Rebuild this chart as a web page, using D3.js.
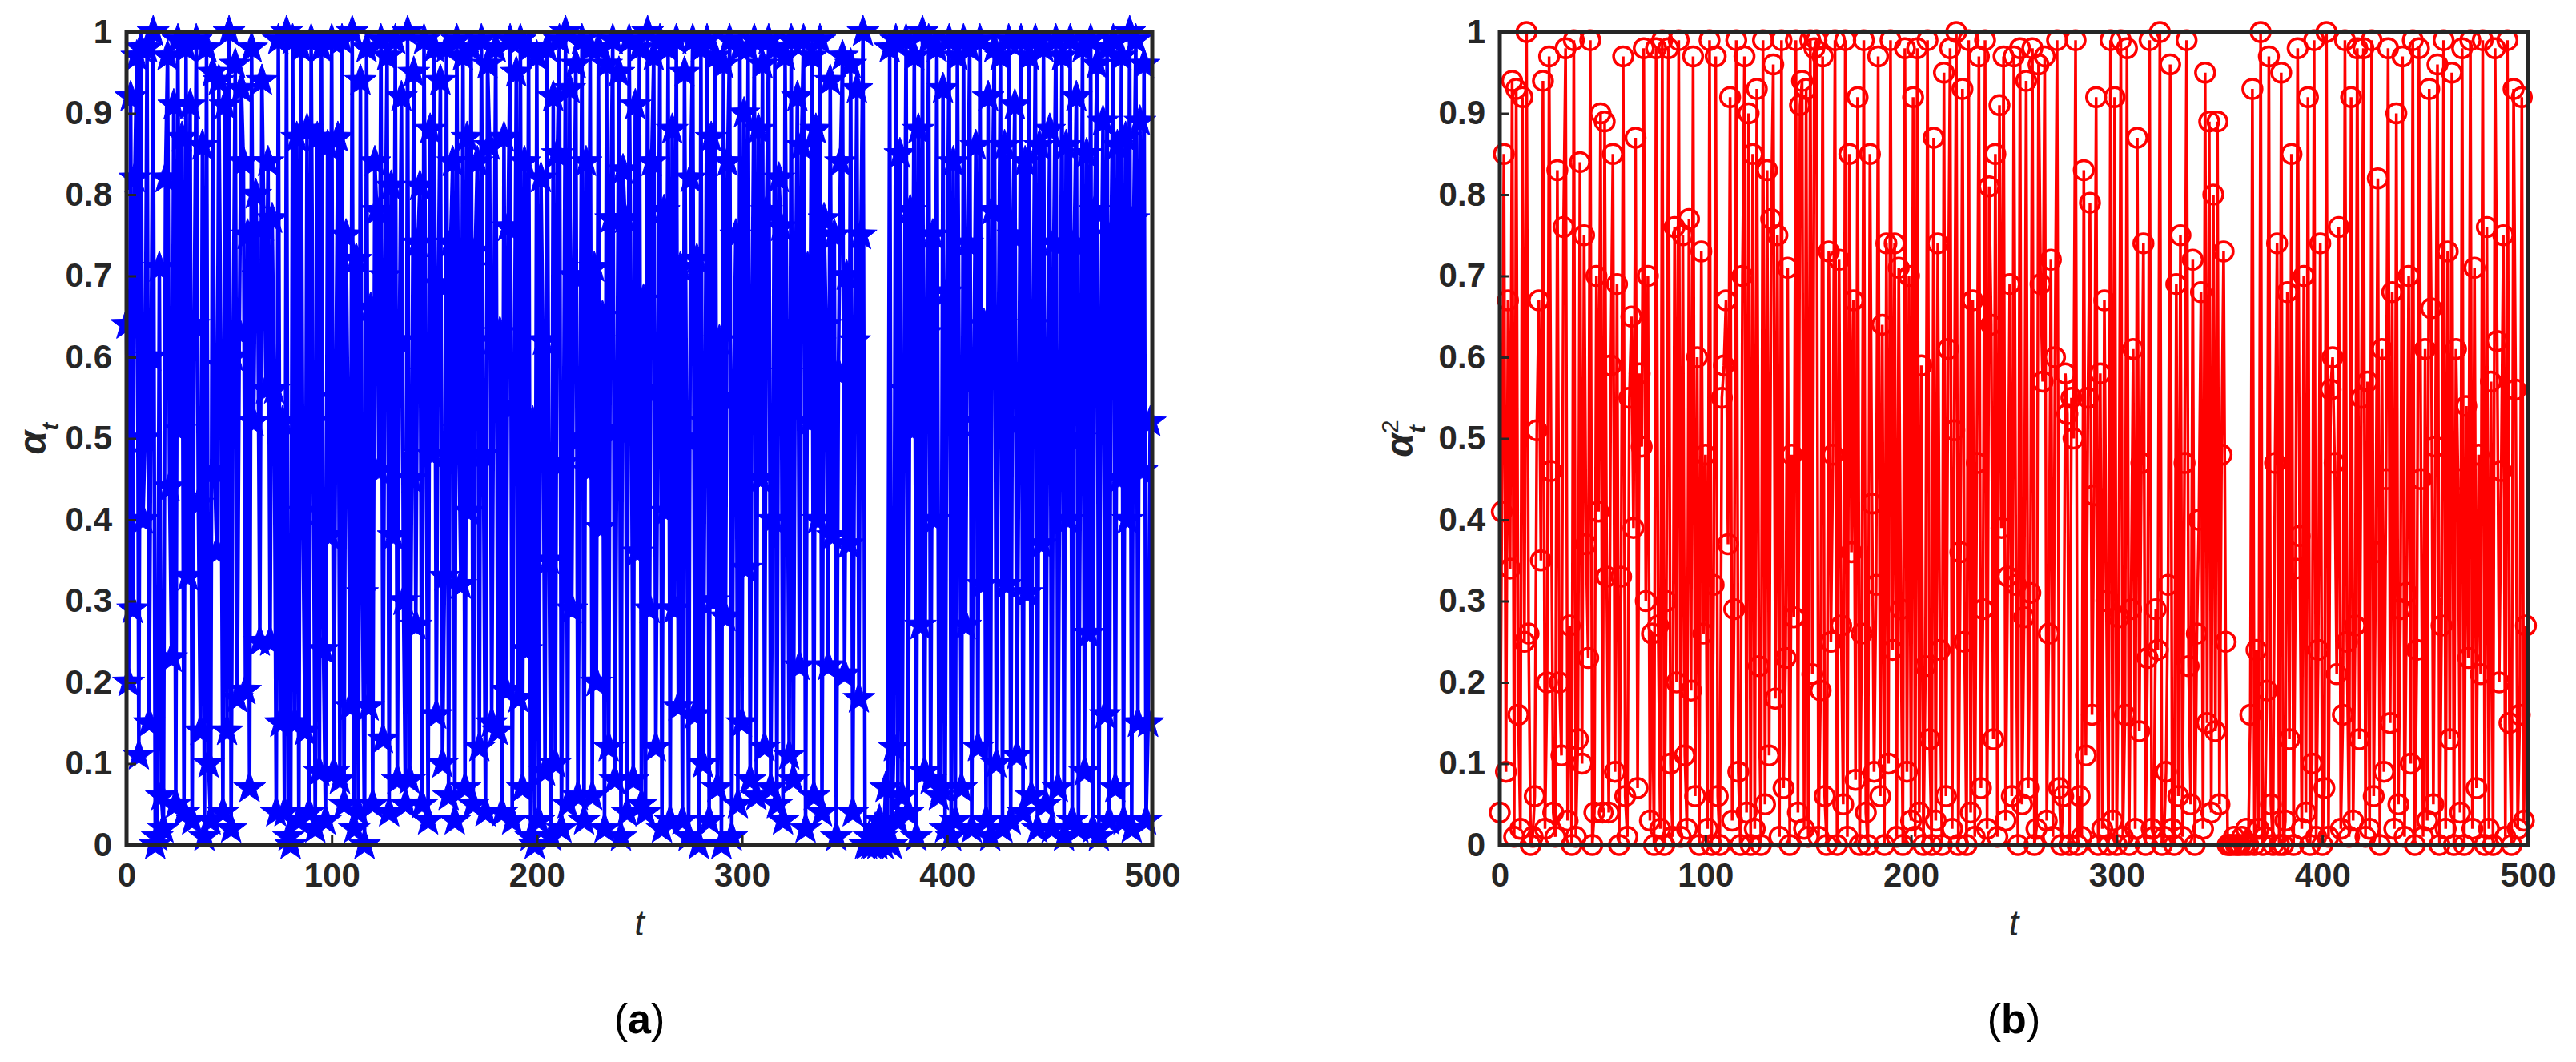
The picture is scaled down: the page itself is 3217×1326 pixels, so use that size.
<!DOCTYPE html>
<html>
<head>
<meta charset="utf-8">
<script src="https://cdn.jsdelivr.net/npm/d3@7/dist/d3.min.js"></script>
<style>
  html, body { margin: 0; padding: 0; background: #fff; }
  text { font-family: Arial, "Liberation Sans", sans-serif; }
</style>
</head>
<body>
<div id="chart"></div>
<script>
const W = 3217, H = 1326;

// chaotic sequence values (t = 0..499)
const seriesA = [
  0.64,0.20,0.92,0.29,0.82,0.97,0.11,0.98,0.40,0.50,0.98,0.15,0.60,1.00,0.00,0.01,0.71,0.06,0.02,0.82,
  0.97,0.44,0.23,0.91,0.05,0.99,0.51,0.87,0.04,0.98,0.33,0.91,0.03,0.64,0.99,0.42,0.14,0.86,0.01,0.98,
  0.10,0.03,0.95,0.46,0.36,0.94,0.59,0.04,0.91,0.14,1.00,0.02,0.60,0.96,0.18,0.63,0.93,0.84,0.19,0.75,
  0.07,0.98,0.52,0.80,0.70,0.25,0.94,0.76,0.56,0.84,0.25,0.77,0.56,0.04,0.99,0.15,0.52,0.04,1.00,0.01,
  0.00,0.99,0.15,0.87,0.03,0.98,0.41,0.14,0.88,0.04,0.99,0.52,0.02,0.87,0.09,0.98,0.24,0.03,0.86,0.38,
  0.99,0.09,0.55,0.87,0.08,0.99,0.05,0.75,0.51,0.17,1.00,0.02,0.72,0.04,0.94,0.31,0.00,0.98,0.17,0.66,
  0.05,0.84,0.78,0.46,0.99,0.13,0.70,0.97,0.04,0.81,0.38,0.99,0.08,0.62,0.92,0.30,0.05,1.00,0.08,0.45,
  0.95,0.27,0.74,0.81,0.05,0.99,0.58,0.03,0.88,0.48,0.98,0.16,0.69,0.94,0.10,0.33,0.98,0.06,0.74,0.84,
  0.03,0.99,0.51,0.32,0.97,0.07,0.87,0.41,0.98,0.05,0.73,0.84,0.12,0.99,0.48,0.04,0.96,0.86,0.15,0.62,
  0.98,0.14,0.63,0.04,0.87,0.19,0.76,0.99,0.03,0.54,0.95,0.18,0.99,0.07,0.84,0.24,0.98,0.01,0.52,0.00,
  0.97,0.03,0.82,0.62,0.09,0.98,0.35,0.01,0.92,0.10,0.85,0.99,0.02,0.47,1.00,0.05,0.93,0.29,0.70,0.96,
  0.06,0.50,0.99,0.03,0.84,0.46,0.98,0.06,0.71,0.20,0.98,0.39,0.65,0.02,0.96,0.12,0.77,0.99,0.08,0.51,
  0.95,0.01,0.83,0.77,0.04,0.99,0.62,0.08,0.91,0.36,0.98,0.05,0.67,0.04,1.00,0.29,0.84,0.97,0.12,0.56,
  0.99,0.02,0.78,0.41,0.98,0.03,0.88,0.29,0.99,0.17,0.71,0.03,0.95,0.50,0.01,0.82,0.99,0.16,0.72,0.00,
  0.98,0.10,0.52,0.99,0.03,0.87,0.30,0.97,0.07,0.62,0.00,0.96,0.28,0.84,0.99,0.01,0.55,0.75,0.05,0.98,
  0.15,0.90,0.34,0.98,0.08,0.66,0.99,0.06,0.88,0.45,0.96,0.12,0.78,0.99,0.07,0.40,0.98,0.05,0.82,0.76,
  0.03,0.97,0.58,0.11,0.99,0.08,0.64,0.92,0.22,0.86,0.99,0.02,0.71,0.52,0.97,0.06,0.88,0.40,0.99,0.04,
  0.77,0.64,0.22,0.94,0.38,0.75,0.01,0.58,0.84,0.97,0.21,0.70,0.37,0.96,0.04,0.62,0.93,0.18,0.75,1.00,
  0.00,0.00,0.01,0.00,0.00,0.02,0.00,0.03,0.01,0.00,0.07,0.02,0.98,0.00,0.12,0.99,0.03,0.85,0.06,0.56,
  0.99,0.04,0.78,0.51,0.97,0.01,0.88,0.27,1.00,0.09,0.63,0.99,0.08,0.75,0.40,0.98,0.06,0.07,0.93,0.02,
  0.68,0.99,0.01,0.84,0.03,0.97,0.52,0.07,0.99,0.27,0.74,0.98,0.02,0.57,0.86,0.12,0.99,0.32,0.64,0.03,
  0.92,0.01,0.78,0.98,0.10,0.62,0.97,0.02,0.86,0.32,0.99,0.03,0.75,0.91,0.11,0.52,0.99,0.04,0.84,0.31,
  0.97,0.06,0.64,0.99,0.02,0.86,0.37,0.98,0.05,0.58,0.88,0.02,0.74,0.99,0.07,0.53,0.97,0.01,0.86,0.40,
  0.99,0.03,0.74,0.92,0.02,0.50,0.98,0.09,0.85,0.26,0.99,0.02,0.78,0.96,0.01,0.63,0.89,0.16,0.98,0.03,
  0.75,0.99,0.07,0.86,0.45,0.97,0.03,0.87,0.40,1.00,0.02,0.77,0.99,0.15,0.89,0.46,0.96,0.03,0.15,0.52
];

const seriesB = [
  0.04,0.41,0.85,0.09,0.67,0.34,0.94,0.01,0.93,0.16,0.02,0.92,0.25,1.00,0.26,0.00,0.01,0.06,0.51,0.67,
  0.35,0.94,0.02,0.20,0.97,0.46,0.04,0.01,0.83,0.20,0.11,0.76,0.98,0.03,0.27,0.00,0.99,0.01,0.13,0.84,
  0.10,0.75,0.37,0.23,0.99,0.00,0.04,0.70,0.41,0.90,0.04,0.89,0.33,0.04,0.59,0.85,0.09,0.69,0.00,0.33,
  0.97,0.06,0.01,0.55,0.65,0.39,0.87,0.07,0.58,0.49,0.98,0.30,0.70,0.03,0.26,0.00,0.98,0.27,0.02,0.99,
  0.00,0.30,0.98,0.10,0.01,0.76,0.20,0.99,0.01,0.75,0.11,0.02,0.77,0.19,0.97,0.06,0.60,0.00,0.73,0.26,
  0.48,0.02,0.99,0.00,0.32,0.97,0.06,0.00,0.55,0.59,0.67,0.37,0.92,0.03,0.29,0.99,0.09,0.00,0.70,0.97,
  0.04,0.90,0.00,0.85,0.02,0.93,0.22,0.00,0.99,0.05,0.83,0.11,0.77,0.96,0.18,0.75,0.01,0.99,0.07,0.23,
  0.71,0.00,0.48,0.28,0.99,0.04,0.91,0.94,0.02,0.93,0.01,0.99,0.21,0.98,0.99,0.01,0.19,0.97,0.06,0.00,
  0.73,0.25,0.48,0.99,0.00,0.72,0.27,0.05,0.99,0.01,0.85,0.36,0.67,0.08,0.92,0.00,0.26,0.99,0.04,0.00,
  0.85,0.42,0.09,0.32,0.97,0.06,0.64,0.00,0.74,0.10,0.99,0.24,0.74,0.01,0.71,0.29,0.00,0.98,0.09,0.70,
  0.03,0.92,0.01,0.98,0.04,0.59,0.00,0.22,0.99,0.13,0.00,0.87,0.03,0.74,0.24,0.00,0.95,0.06,0.61,0.98,
  0.02,0.51,1.00,0.00,0.36,0.93,0.25,0.00,0.99,0.04,0.67,0.01,0.47,0.97,0.07,0.29,0.99,0.02,0.81,0.64,
  0.13,0.85,0.01,0.91,0.39,0.97,0.03,0.33,0.69,0.06,0.97,0.32,0.00,0.98,0.05,0.28,0.94,0.07,0.31,0.98,
  0.00,0.02,0.96,0.69,0.57,0.97,0.03,0.26,0.72,0.01,0.60,0.99,0.07,0.00,0.06,0.58,0.53,0.00,0.55,0.50,
  0.99,0.00,0.06,0.01,0.83,0.11,0.55,0.79,0.16,0.43,0.92,0.00,0.58,0.02,0.67,0.30,0.00,0.99,0.03,0.92,
  0.00,0.28,0.99,0.01,0.16,0.98,0.00,0.29,0.61,0.02,0.87,0.14,0.47,0.74,0.00,0.23,0.99,0.02,0.01,0.29,
  0.24,1.00,0.00,0.01,0.09,0.32,0.96,0.02,0.00,0.69,0.06,0.75,0.01,0.47,0.99,0.22,0.05,0.72,0.00,0.26,
  0.40,0.68,0.02,0.95,0.15,0.89,0.04,0.80,0.14,0.89,0.05,0.48,0.73,0.25,0.00,0.00,0.00,0.01,0.00,0.00,
  0.00,0.01,0.00,0.02,0.00,0.16,0.93,0.00,0.24,0.02,1.00,0.00,0.01,0.19,0.97,0.05,0.00,0.47,0.74,0.00,
  0.95,0.00,0.03,0.68,0.13,0.85,0.00,0.34,0.98,0.38,0.02,0.70,0.04,0.92,0.00,0.10,0.99,0.01,0.24,0.74,
  0.00,0.07,1.00,0.01,0.56,0.60,0.47,0.21,0.76,0.02,0.16,0.99,0.25,0.01,0.92,0.03,0.27,0.98,0.13,0.55,
  0.98,0.01,0.57,0.02,0.99,0.06,0.36,0.82,0.00,0.61,0.09,0.45,0.98,0.15,0.68,0.02,0.90,0.05,0.29,0.97,
  0.01,0.31,0.70,0.10,0.99,0.00,0.24,0.98,0.45,0.01,0.61,0.03,0.93,0.66,0.05,0.49,0.96,0.00,0.27,0.99,
  0.02,0.73,0.13,0.95,0.00,0.61,0.45,0.04,0.98,0.00,0.54,0.23,0.99,0.02,0.71,0.07,0.48,0.21,0.99,0.00,
  0.76,0.02,0.57,0.00,0.98,0.62,0.20,0.46,0.75,0.01,0.99,0.15,0.00,0.93,0.56,0.02,0.16,0.92,0.03,0.27
];

const xTicks = [0, 100, 200, 300, 400, 500];
const yTicks = [0, 0.1, 0.2, 0.3, 0.4, 0.5, 0.6, 0.7, 0.8, 0.9, 1];

const panels = [
  { data: seriesA, left: 158, right: 1439, color: '#0000ff', marker: 'star', caption: 'a', ylabelX: 45, sup: false, lw: 4.5 },
  { data: seriesB, left: 1873, right: 3157, color: '#ff0000', marker: 'circle', caption: 'b', ylabelX: 1752, sup: true, lw: 3.5 }
];
const plotTop = 40, plotBottom = 1055;

const svg = d3.select('#chart').append('svg').attr('width', W).attr('height', H);

function starPath(R, r) {
  const pts = [];
  for (let i = 0; i < 10; i++) {
    const a = -Math.PI / 2 + i * Math.PI / 5;
    const rad = i % 2 === 0 ? R : r;
    pts.push([rad * Math.cos(a), rad * Math.sin(a)]);
  }
  return 'M' + pts.map(p => p.join(',')).join('L') + 'Z';
}
const STAR = starPath(21, 8.5);

panels.forEach(p => {
  const x = d3.scaleLinear().domain([0, 500]).range([p.left, p.right]);
  const y = d3.scaleLinear().domain([0, 1]).range([plotBottom, plotTop]);
  const g = svg.append('g');

  const line = d3.line().x((d, i) => x(i)).y(d => y(d));
  g.append('path').datum(p.data).attr('d', line)
    .attr('fill', 'none').attr('stroke', p.color).attr('stroke-width', p.lw);

  if (p.marker === 'star') {
    g.selectAll('path.m').data(p.data).join('path').attr('class', 'm')
      .attr('d', STAR).attr('transform', (d, i) => `translate(${x(i)},${y(d)})`)
      .attr('fill', p.color).attr('stroke', p.color).attr('stroke-width', 1);
  } else {
    g.selectAll('circle.m').data(p.data).join('circle').attr('class', 'm')
      .attr('cx', (d, i) => x(i)).attr('cy', d => y(d)).attr('r', 12)
      .attr('fill', 'none').attr('stroke', p.color).attr('stroke-width', 3.5);
  }

  g.append('rect').attr('x', p.left).attr('y', plotTop)
    .attr('width', p.right - p.left).attr('height', plotBottom - plotTop)
    .attr('fill', 'none').attr('stroke', '#262626').attr('stroke-width', 5);

  const xAxis = d3.axisBottom(x).tickValues(xTicks).tickSize(-12).tickPadding(22).tickFormat(d3.format('d'));
  const yAxis = d3.axisLeft(y).tickValues(yTicks).tickSize(-12).tickPadding(18).tickFormat(d => d === 0 || d === 1 ? d : d3.format('.1f')(d));
  const gx = g.append('g').attr('transform', `translate(0,${plotBottom})`).call(xAxis);
  const gy = g.append('g').attr('transform', `translate(${p.left},0)`).call(yAxis);
  [gx, gy].forEach(a => {
    a.select('.domain').remove();
    a.selectAll('line').attr('stroke', '#262626').attr('stroke-width', 3);
    a.selectAll('text').attr('fill', '#262626').attr('font-size', 42).attr('font-weight', 'bold')
      .attr('font-family', 'Arial, "Liberation Sans", sans-serif');
  });
  gx.selectAll('text').attr('dy', '0.71em');

  const mid = (p.left + p.right) / 2;
  g.append('text').attr('x', mid).attr('y', 1168).attr('text-anchor', 'middle')
    .attr('font-family', '"Times New Roman", "Liberation Serif", serif').attr('font-style', 'italic')
    .attr('font-size', 44).attr('fill', '#262626').text('t');

  const yl = g.append('text').attr('transform', `translate(${p.ylabelX + 12},${(plotTop + plotBottom) / 2}) rotate(-90)`)
    .attr('text-anchor', 'middle').attr('fill', '#262626')
    .attr('font-family', '"Times New Roman", "Liberation Serif", serif').attr('font-style', 'italic')
    .attr('font-weight', 'bold').attr('font-size', 48);
  yl.append('tspan').text('α');
  yl.append('tspan').attr('font-size', 30).attr('dy', 16).text('t');
  if (p.sup) {
    yl.append('tspan').attr('font-size', 30).attr('dy', -34).attr('dx', -10)
      .attr('font-style', 'normal').attr('font-weight', 'normal').text('2');
  }

  const cap = g.append('text').attr('x', mid).attr('y', 1290).attr('text-anchor', 'middle')
    .attr('font-family', '"Times New Roman", "Liberation Serif", serif').attr('font-size', 52).attr('fill', '#000');
  cap.append('tspan').text('(');
  cap.append('tspan').attr('font-weight', 'bold').text(p.caption);
  cap.append('tspan').text(')');
});
</script>
</body>
</html>
